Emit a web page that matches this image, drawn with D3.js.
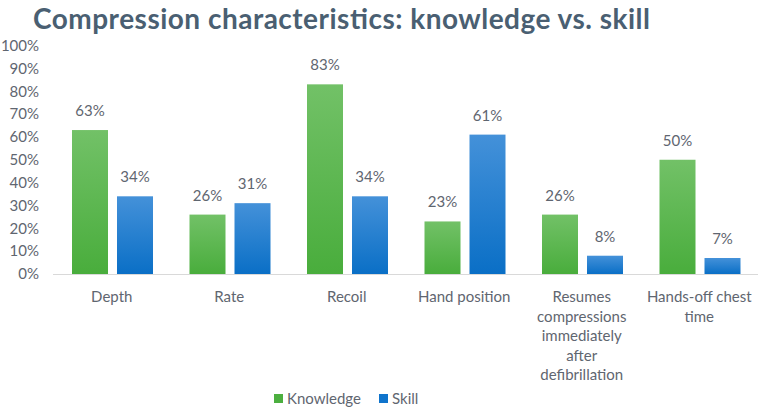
<!DOCTYPE html>
<html lang="en">
<head>
    <meta charset="UTF-8">
    <title>Compression characteristics</title>
    <script src="https://d3js.org/d3.v7.min.js"></script>
    <style>
        body { margin: 0; background: #fff; font-family: Lato, "Open Sans", sans-serif; }
        .tick-label { font-size: 15px; fill: #5f6670; }
    </style>
</head>
<body>
    <div id="chart"></div>
    <script>
        // Chart data
        const categories = ["Depth", "Rate", "Recoil", "Hand position",
            "Resumes compressions immediately after defibrillation", "Hands-off chest time"];
        const categoryLines = [["Depth"], ["Rate"], ["Recoil"], ["Hand position"],
            ["Resumes", "compressions", "immediately", "after", "defibrillation"],
            ["Hands-off chest", "time"]];
        const knowledge = [63, 26, 83, 23, 26, 50];
        const skill = [34, 31, 34, 61, 8, 7];
        const seriesNames = ["Knowledge", "Skill"];
        const yTicks = [0, 10, 20, 30, 40, 50, 60, 70, 80, 90, 100];

        const W = 763, H = 408;
        const svg = d3.select("#chart").append("svg")
            .attr("width", W).attr("height", H);

        const defs = svg.append("defs");
        const grads = [["gGreen", "#72c167", "#49ad3c"], ["gBlue", "#4491d9", "#0a6fc6"]];
        grads.forEach(([id, top, bot]) => {
            const g = defs.append("linearGradient").attr("id", id)
                .attr("x1", 0).attr("y1", 0).attr("x2", 0).attr("y2", 1);
            g.append("stop").attr("offset", "0%").attr("stop-color", top);
            g.append("stop").attr("offset", "100%").attr("stop-color", bot);
        });
        const fills = ["url(#gGreen)", "url(#gBlue)"];

        svg.append("text")
            .attr("x", 33).attr("y", 28.5)
            .attr("font-family", "Lato, sans-serif")
            .attr("font-weight", "bold")
            .attr("font-size", 28)
            .attr("textLength", 617)
            .attr("lengthAdjust", "spacing")
            .attr("fill", "#4a5f72")
            .text("Compression characteristics: knowledge vs. skill");

        const x = d3.scaleBand().domain(categories).range([53, 758]);
        const y = d3.scaleLinear().domain([0, 100]).range([274, 45.5]);
        const sub = d3.scaleBand().domain(seriesNames).range([19, 100]).paddingInner(0.2);

        // baseline
        svg.append("line")
            .attr("x1", 53).attr("x2", 758)
            .attr("y1", y(0) + 0.5).attr("y2", y(0) + 0.5)
            .attr("stroke", "#d9d9d9").attr("stroke-width", 1);

        // y axis
        const yAxis = d3.axisLeft(y).tickValues(yTicks).tickFormat(d => d + "%").tickSize(0);
        svg.append("g")
            .attr("transform", "translate(39,0)")
            .call(yAxis)
            .call(g => g.select(".domain").remove())
            .call(g => g.selectAll("text").attr("class", "tick-label").attr("x", 0)
                .attr("font-family", "Lato, sans-serif"));

        const rows = categories.map((c, i) => ({ c, vals: [knowledge[i], skill[i]] }));
        const grp = svg.append("g").selectAll("g").data(rows).join("g")
            .attr("transform", d => `translate(${x(d.c)},0)`);

        grp.selectAll("rect").data(d => d.vals.map((v, j) => ({ v, s: seriesNames[j], j })))
            .join("rect")
            .attr("x", d => sub(d.s))
            .attr("width", sub.bandwidth())
            .attr("y", d => y(d.v))
            .attr("height", d => y(0) - y(d.v))
            .attr("fill", d => fills[d.j]);

        grp.selectAll("text.val").data(d => d.vals.map((v, j) => ({ v, s: seriesNames[j] })))
            .join("text")
            .attr("class", "val tick-label")
            .attr("x", d => sub(d.s) + sub.bandwidth() / 2)
            .attr("y", d => y(d.v) - 14)
            .attr("text-anchor", "middle")
            .text(d => d.v + "%");

        // category labels
        grp.append("text")
            .attr("class", "tick-label")
            .attr("text-anchor", "middle")
            .attr("x", x.bandwidth() / 2)
            .selectAll("tspan")
            .data((d, i) => categoryLines[i])
            .join("tspan")
            .attr("x", x.bandwidth() / 2)
            .attr("y", (d, i) => 302 + i * 19.5)
            .text(d => d);

        // legend
        const legend = svg.append("g").selectAll("g").data(seriesNames).join("g")
            .attr("transform", (d, i) => `translate(${[274, 379][i]},394)`);
        legend.append("rect").attr("width", 9).attr("height", 9)
            .attr("fill", (d, i) => ["#4caf3f", "#0f74cc"][i]);
        legend.append("text").attr("class", "tick-label")
            .attr("x", 13).attr("y", 10).text(d => d);
    </script>
</body>
</html>
